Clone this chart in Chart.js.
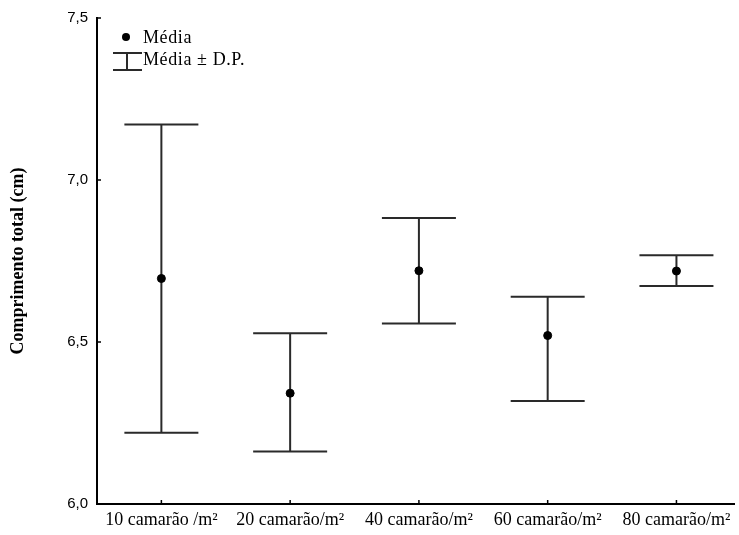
<!DOCTYPE html>
<html>
<head>
<meta charset="utf-8">
<script src="https://cdn.jsdelivr.net/npm/chart.js@4.4.1/dist/chart.umd.min.js"></script>
<style>
  html, body { margin: 0; padding: 0; background: #fff; }
  #wrap { width: 739px; height: 535px; }
</style>
</head>
<body>
<div id="wrap"><canvas id="myChart"></canvas></div>
<script>
const categories = ["10 camarão /m²", "20 camarão/m²", "40 camarão/m²", "60 camarão/m²", "80 camarão/m²"];
const means = [6.696, 6.342, 6.720, 6.520, 6.719];
const upper = [7.171, 6.527, 6.883, 6.640, 6.768];
const lower = [6.220, 6.162, 6.557, 6.318, 6.673];
const yTicks = [6.0, 6.5, 7.0, 7.5];

const serif = "'Liberation Serif', 'Times New Roman', serif";
const sans = "'Liberation Sans', Arial, sans-serif";

// error bars, inside ticks and the little legend
const errorBars = {
  id: 'errorBars',
  beforeDatasetsDraw(chart) {
    const ctx = chart.ctx;
    const x = chart.scales.x, y = chart.scales.y;
    ctx.save();
    ctx.strokeStyle = '#2a2a2a';
    ctx.lineWidth = 2;
    for (let i = 0; i < means.length; i++) {
      const px = x.getPixelForValue(i + 1);
      const top = y.getPixelForValue(upper[i]);
      const bot = y.getPixelForValue(lower[i]);
      ctx.beginPath();
      ctx.moveTo(px, top); ctx.lineTo(px, bot);
      ctx.moveTo(px - 37, top); ctx.lineTo(px + 37, top);
      ctx.moveTo(px - 37, bot); ctx.lineTo(px + 37, bot);
      ctx.stroke();
    }
    ctx.restore();
  },
  afterDraw(chart) {
    const ctx = chart.ctx;
    const x = chart.scales.x, y = chart.scales.y;
    const area = chart.chartArea;
    ctx.save();
    ctx.strokeStyle = '#000';
    ctx.lineWidth = 1.5;
    ctx.beginPath();
    yTicks.forEach(v => {
      const py = y.getPixelForValue(v);
      ctx.moveTo(area.left, py); ctx.lineTo(area.left + 4, py);
    });
    categories.forEach((c, i) => {
      const px = x.getPixelForValue(i + 1);
      ctx.moveTo(px, area.bottom); ctx.lineTo(px, area.bottom - 4);
    });
    ctx.stroke();

    // legend
    ctx.fillStyle = '#000';
    ctx.beginPath();
    ctx.arc(126, 37, 4, 0, Math.PI * 2);
    ctx.fill();
    ctx.strokeStyle = '#2a2a2a';
    ctx.lineWidth = 2;
    ctx.beginPath();
    ctx.moveTo(113, 53); ctx.lineTo(142, 53);
    ctx.moveTo(113, 70); ctx.lineTo(142, 70);
    ctx.moveTo(127, 53); ctx.lineTo(127, 70);
    ctx.stroke();
    ctx.font = '18px ' + serif;
    ctx.letterSpacing = '0.6px';
    ctx.textBaseline = 'middle';
    ctx.fillText('Média', 143, 38);
    ctx.fillText('Média ± D.P.', 143, 60);
    ctx.restore();
  }
};

new Chart("myChart", {
  type: "scatter",
  data: {
    datasets: [{
      data: means.map((m, i) => ({ x: i + 1, y: m })),
      backgroundColor: "#000",
      borderColor: "#000",
      pointRadius: 4,
      pointHoverRadius: 4
    }]
  },
  options: {
    responsive: true,
    maintainAspectRatio: false,
    animation: false,
    layout: { padding: { top: 15, right: -5, left: 0, bottom: 0 } },
    plugins: { legend: { display: false }, tooltip: { enabled: false } },
    scales: {
      x: {
        type: 'linear',
        min: 0.5,
        max: 5.447,
        afterBuildTicks: axis => { axis.ticks = categories.map((c, i) => ({ value: i + 1 })); },
        afterFit: axis => { axis.height = 31; axis.paddingLeft = 0; axis.paddingRight = 0; },
        grid: { display: false, drawTicks: false },
        border: { display: true, color: '#000', width: 2 },
        ticks: {
          autoSkip: false,
          maxRotation: 0,
          padding: 5,
          color: '#000',
          font: { family: serif, size: 18 },
          callback: v => categories[v - 1]
        }
      },
      y: {
        min: 6.0,
        max: 7.5,
        afterBuildTicks: axis => { axis.ticks = yTicks.map(v => ({ value: v })); },
        afterFit: axis => { axis.width = 97; },
        grid: { display: false, drawTicks: false },
        border: { display: true, color: '#000', width: 2 },
        ticks: {
          padding: 9,
          color: '#000',
          font: { family: sans, size: 15 },
          callback: v => v.toFixed(1).replace('.', ',')
        },
        title: {
          display: true,
          text: 'Comprimento total (cm)',
          color: '#000',
          font: { family: serif, size: 18, weight: 'bold' },
          padding: { top: 8, bottom: 0 }
        }
      }
    }
  },
  plugins: [errorBars]
});
</script>
</body>
</html>
